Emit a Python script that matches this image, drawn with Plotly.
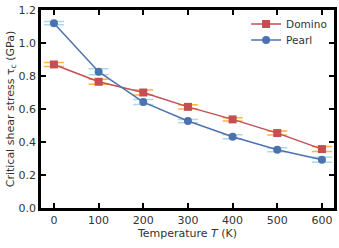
import plotly.graph_objects as go

temps = [0, 100, 200, 300, 400, 500, 600]
domino = [0.87, 0.765, 0.70, 0.613, 0.537, 0.454, 0.357]
domino_err = [0.012, 0.015, 0.015, 0.013, 0.01, 0.012, 0.015]
pearl = [1.12, 0.826, 0.642, 0.527, 0.432, 0.353, 0.293]
pearl_err = [0.01, 0.018, 0.015, 0.01, 0.012, 0.012, 0.015]

fig = go.Figure()
fig.add_trace(go.Scatter(
    x=temps, y=domino, name="Domino", mode="lines+markers", legend="legend",
    line=dict(color="#c44e52", width=1.5),
    marker=dict(symbol="square", size=8, color="#c44e52"),
    error_y=dict(type="data", array=domino_err, color="#ffb347", thickness=1.5, width=10),
))
fig.add_trace(go.Scatter(
    x=temps, y=pearl, name="Pearl", mode="lines+markers", legend="legend2",
    line=dict(color="#4c72b0", width=1.5),
    marker=dict(symbol="circle", size=8, color="#4c72b0"),
    error_y=dict(type="data", array=pearl_err, color="#add8e6", thickness=1.5, width=10),
))

tfont = dict(family="DejaVu Sans", size=11, color="#333333")
lfont = dict(family="DejaVu Sans", size=10.5, color="#333333")
fig.update_layout(
    width=339, height=248,
    margin=dict(l=41, r=5, t=10, b=40),
    paper_bgcolor="white", plot_bgcolor="white",
    font=tfont,
    showlegend=True,
    legend=dict(x=0.70, y=0.929, xanchor="left", yanchor="middle",
                bgcolor="rgba(0,0,0,0)", font=lfont),
    legend2=dict(x=0.70, y=0.848, xanchor="left", yanchor="middle",
                 bgcolor="rgba(0,0,0,0)", font=lfont),
)
fig.update_xaxes(
    range=[-29, 627], tickvals=temps, ticktext=[str(t) for t in temps],
    ticks="inside", ticklen=5, tickwidth=2, tickcolor="black",
    showline=True, linewidth=2.5, linecolor="black", mirror="ticks",
    showgrid=False, zeroline=False, automargin=False, tickfont=tfont,
    title=dict(text="Temperature <i>T</i> (K)", standoff=4, font=tfont),
)
fig.update_yaxes(
    range=[0, 1.2], dtick=0.2, tickformat=".1f",
    ticks="inside", ticklen=5, tickwidth=2, tickcolor="black",
    showline=True, linewidth=2.5, linecolor="black", mirror="ticks",
    showgrid=False, zeroline=False, automargin=False, tickfont=tfont,
    title=dict(text="Critical shear stress τ<sub>c</sub> (GPa)", standoff=2, font=tfont),
)

fig.write_html("out.html", config={"displayModeBar": False},
               post_script="document.body.style.margin='0';")
